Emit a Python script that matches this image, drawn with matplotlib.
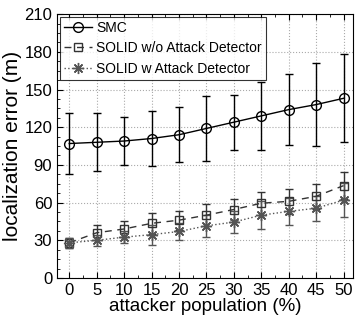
import numpy as np
import matplotlib
matplotlib.use("Agg")
import matplotlib.pyplot as plt
from matplotlib.ticker import MultipleLocator
from matplotlib.lines import Line2D

plt.rcParams['font.family'] = ['Liberation Sans', 'DejaVu Sans']

population = [0, 5, 10, 15, 20, 25, 30, 35, 40, 45, 50]

smc_mean = [107, 108, 109, 111, 114, 119, 124, 129, 134, 138, 143]
smc_err = [24, 23, 19, 22, 22, 26, 22, 27, 28, 33, 35]

wo_mean = [28, 36, 39, 43.5, 46, 50, 54.5, 59.5, 61, 65, 73.5]
wo_err = [4, 6, 6.5, 8.5, 7.5, 8.5, 8.5, 9, 10, 10, 10.5]

w_mean = [28, 30, 32.5, 34.5, 37, 41.5, 44.5, 50, 53, 55.5, 62]
w_err = [4, 4.5, 5, 8, 7, 9, 8.5, 11, 11, 10, 13.5]

labels = ['SMC', 'SOLID w/o Attack Detector', 'SOLID w Attack Detector']
styles = [
    dict(color='black', marker='o', markersize=7, linestyle='-'),
    dict(color='#333333', marker='s', markersize=5.5, linestyle=(0, (5, 4))),
    dict(color='#555555', marker=(8, 2, 0), markersize=8, linestyle=':'),
]

fig = plt.figure(figsize=(3.55, 3.21), dpi=100)
ax = fig.add_axes([0.161, 0.134, 0.833, 0.822])

handles = []
for mean, err, st, lab in zip([smc_mean, wo_mean, w_mean], [smc_err, wo_err, w_err], styles, labels):
    ax.errorbar(population, mean, yerr=err, markerfacecolor='none', linewidth=1,
                capsize=3, elinewidth=1, **st)
    handles.append(Line2D([], [], markerfacecolor='none', linewidth=1, label=lab, **st))

ax.set_xlim(-2.2, 51.7)
ax.set_ylim(0, 210)
ax.set_xticks(population)
ax.set_yticks(np.arange(0, 211, 30))
ax.xaxis.set_minor_locator(MultipleLocator(2.5))
ax.yaxis.set_minor_locator(MultipleLocator(7.5))
ax.tick_params(which='both', direction='in', top=True, right=False, labelsize=12)
ax.tick_params(which='major', length=4)
ax.tick_params(which='minor', length=2)
ax.grid(True, which='major', linestyle=':', color='#aaaaaa', linewidth=0.8)

ax.set_xlabel('attacker population (%)', fontsize=13.5, labelpad=0)
ax.set_ylabel('localization error (m)', fontsize=15, labelpad=2)

leg = ax.legend(handles=handles, loc='upper left', fontsize=10, frameon=True,
                fancybox=False, edgecolor='black', borderpad=0.3, labelspacing=0.45,
                handlelength=2.0, handletextpad=0.3, borderaxespad=0.2)
leg.get_frame().set_linewidth(0.8)

fig.savefig('out.png', dpi=100)
